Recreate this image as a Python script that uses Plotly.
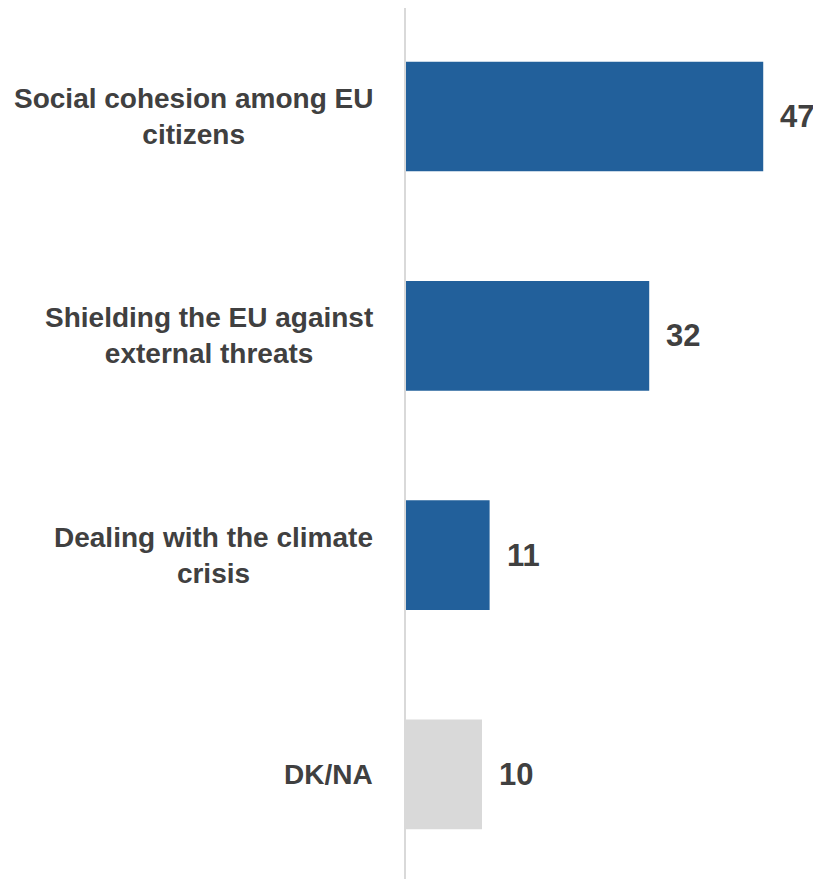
import plotly.graph_objects as go

categories = ["Social cohesion among EU<br>citizens",
              "Shielding the EU against<br>external threats",
              "Dealing with the climate<br>crisis",
              "DK/NA"]
values = [47, 32, 11, 10]
colors = ["#22609B", "#22609B", "#22609B", "#D9D9D9"]

FONT = "Liberation Sans Narrow, Arial Narrow, Liberation Sans, Arial, sans-serif"
TXT = "#404040"

idx = list(range(len(categories)))

fig = go.Figure()
fig.add_trace(go.Bar(
    x=values, y=idx, orientation="h",
    marker=dict(color=colors, line=dict(width=0)),
    width=0.5, hoverinfo="skip"))

annotations = []
for i, (c, v) in enumerate(zip(categories, values)):
    annotations.append(dict(
        x=0, xref="x", y=i, yref="y", text="<b>%s</b>" % c,
        xanchor="right", yanchor="middle", align="center", xshift=-31,
        showarrow=False, font=dict(family=FONT, size=28, color=TXT)))
    annotations.append(dict(
        x=v, xref="x", y=i, yref="y", text="<b>%d</b>" % v,
        xanchor="left", yanchor="middle", xshift=15,
        showarrow=False, font=dict(family=FONT, size=31, color=TXT)))

fig.update_layout(
    width=813, height=871,
    margin=dict(l=398, r=0, t=0, b=0),
    plot_bgcolor="white", paper_bgcolor="white",
    showlegend=False,
    annotations=annotations,
    xaxis=dict(range=[0, 54.6], showgrid=False, zeroline=False,
               showticklabels=False, showline=False, fixedrange=True),
    yaxis=dict(range=[3.477, -0.495], showgrid=False, zeroline=False,
               showticklabels=False, showline=True, linecolor="#D9D9D9",
               linewidth=2, fixedrange=True),
)
fig.write_html("out.html")
